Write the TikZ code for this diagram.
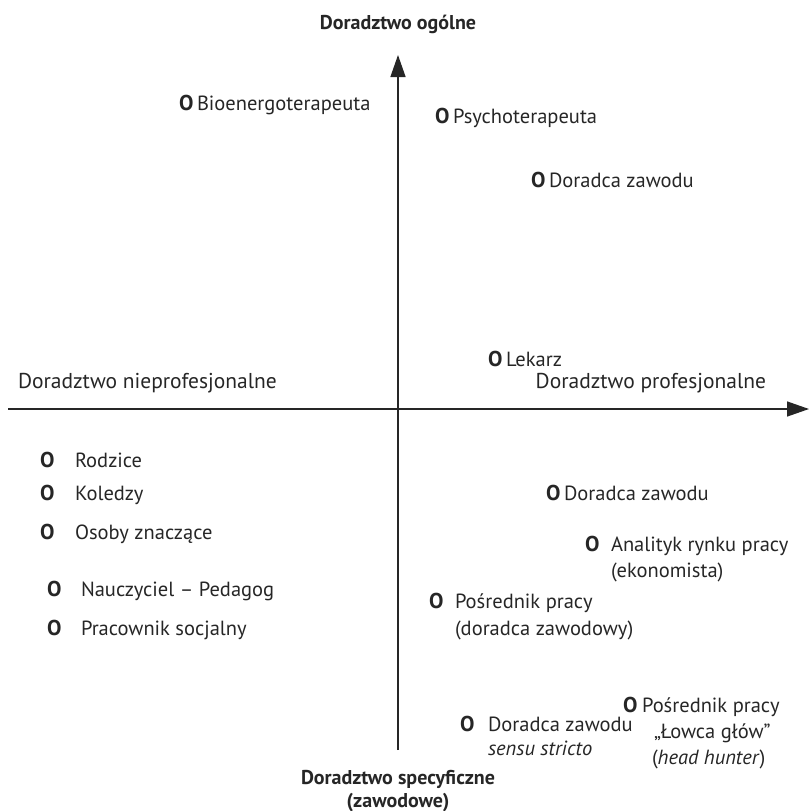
\documentclass[tikz,border=0pt]{standalone}
\usepackage{fontspec}
\setmainfont{PT Sans}
\usetikzlibrary{arrows.meta}
\begin{document}
\begin{tikzpicture}[x=1pt,y=-1pt,
  every node/.style={inner sep=0pt,outer sep=0pt,font=\fontsize{20.5}{24}\selectfont,text=black!85},
  dot/.style={anchor=base west,font=\fontsize{21.5}{24}\selectfont\bfseries},
  lbl/.style={anchor=base west},
  axlbl/.style={font=\fontsize{21.5}{24}\selectfont},
  ttl/.style={anchor=base,font=\fontsize{20}{24}\selectfont\bfseries},
  axis/.style={line width=1.4pt,draw=black!85,-{Triangle[length=22pt,width=15pt]}}]
\useasboundingbox (0,0) rectangle (811,811);

% axes
\coordinate (vb) at (398,750);
\coordinate (vt) at (398,55);
\coordinate (hl) at (8,409);
\coordinate (hr) at (809,409);
\draw[axis] (vb) -- (vt);
\draw[axis] (hl) -- (hr);

% axis titles
\node[ttl] (tn) at (398,29) {Doradztwo ogólne};
\node[ttl] (ts1) at (398,784) {Doradztwo specyficzne};
\node[ttl] (ts2) at (398,807) {(zawodowe)};
\node[lbl,axlbl] (tw) at (18,388) {Doradztwo nieprofesjonalne};
\node[anchor=base east,axlbl] (te) at (766,388) {Doradztwo profesjonalne};

% upper half
\node[dot] (o1) at (179,110) {O};
\node[lbl] (l1) at (197,110) {Bioenergoterapeuta};
\node[dot] (o2) at (435,123) {O};
\node[lbl] (l2) at (453,123) {Psychoterapeuta};
\node[dot] (o3) at (531,187) {O};
\node[lbl] (l3) at (549,187) {Doradca zawodu};
\node[dot] (o4) at (488,366) {O};
\node[lbl] (l4) at (506,366) {Lekarz};

% lower left
\node[dot] (o5) at (40,467) {O};
\node[lbl] (l5) at (75,467) {Rodzice};
\node[dot] (o6) at (40,500) {O};
\node[lbl] (l6) at (75,500) {Koledzy};
\node[dot] (o7) at (40,539) {O};
\node[lbl] (l7) at (75,539) {Osoby znaczące};
\node[dot] (o8) at (47,596) {O};
\node[lbl] (l8) at (81,596) {Nauczyciel – Pedagog};
\node[dot] (o9) at (47,635) {O};
\node[lbl] (l9) at (81,635) {Pracownik socjalny};

% lower right
\node[dot] (o10) at (546,500) {O};
\node[lbl] (l10) at (564,500) {Doradca zawodu};
\node[dot] (o11) at (585,551) {O};
\node[lbl] (l11a) at (611,551) {Analityk rynku pracy};
\node[lbl] (l11b) at (611,577) {(ekonomista)};
\node[dot] (o12) at (429,608) {O};
\node[lbl] (l12a) at (455,608) {Pośrednik pracy};
\node[lbl] (l12b) at (455,635) {(doradca zawodowy)};
\node[dot] (o13) at (460,731) {O};
\node[lbl] (l13a) at (488,731) {Doradca zawodu};
\node[lbl] (l13b) at (488,755) {\itshape sensu stricto};
\node[dot] (o14) at (623,712) {O};
\node[lbl] (l14a) at (642,712) {Pośrednik pracy};
\node[lbl] (l14b) at (654,738) {„Łowca głów”};
\node[lbl] (l14c) at (652,764) {(\textit{head hunter})};
\end{tikzpicture}
\end{document}
